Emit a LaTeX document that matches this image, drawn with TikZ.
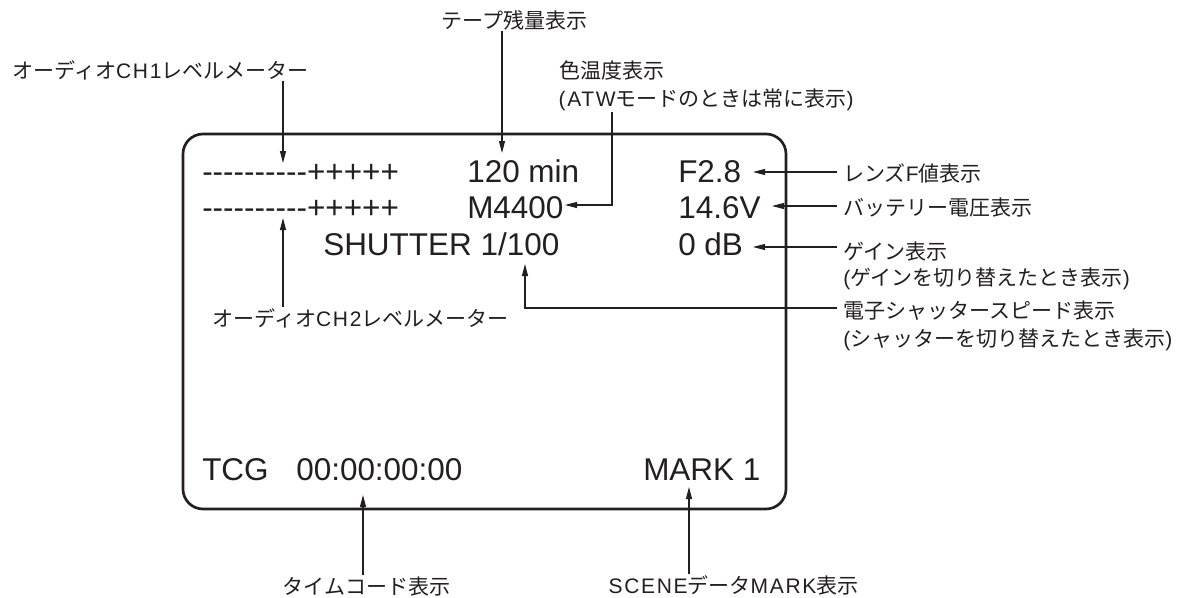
\documentclass[tikz,border=0pt]{standalone}
\usepackage{fontspec}
\setmainfont{Liberation Sans}
\newfontfamily\jpfont{Noto Sans CJK JP}
\newfontfamily\latspfont[LetterSpace=8]{Liberation Sans}
\newcommand\LatS[1]{{\latspfont #1}}
\usetikzlibrary{arrows.meta}
\definecolor{ink}{HTML}{231F20}
\begin{document}
\begin{tikzpicture}[x={(0.75pt,0)}, y={(0,-0.75pt)},
  disp/.style={font=\fontsize{23.6pt}{28pt}\selectfont, inner sep=0pt, anchor=base west, text=ink},
  lbl/.style={font=\jpfont\fontsize{15.75pt}{21pt}\selectfont, inner sep=1pt, anchor=base west, text=ink},
  rlbl/.style={lbl, inner xsep=4.5pt},
  arr/.style={draw=ink, line width=0.8pt, -{Triangle[length=9pt,width=4.5pt]}}]
\fill[white] (0,0) rectangle (1190,597);
\useasboundingbox (0,0) rectangle (1190,597);

% screen frame
\node[draw=ink, line width=2pt, rounded corners=15pt, minimum width=452.25pt,
      minimum height=281.25pt, inner sep=0pt] (screen) at (484.5,321.5) {};

% display contents
\node[disp] (lv1)  at (202,182) {-{}-{}-{}-{}-{}-{}-{}-{}-{}-{}+++++};
\node[disp] (tape) at (467,182) {120 min};
\node[disp] (fnum) at (678,182) {F2.8};
\node[disp] (lv2)  at (202,218) {-{}-{}-{}-{}-{}-{}-{}-{}-{}-{}+++++};
\node[disp] (ct)   at (467,218) {M4400};
\node[disp] (batt) at (678,218) {14.6V};
\node[disp] (shut) at (323,255) {SHUTTER 1/100};
\node[disp] (gain) at (678,255) {0 dB};
\node[disp] (tcg)  at (202,480) {TCG};
\node[disp] (tc)   at (296,480) {00:00:00:00};
\node[disp] (mark) at (643,480) {MARK 1};

% labels
\node[lbl]  (Ltape)  at (440,28)  {テープ残量表示};
\node[lbl]  (Lch1)   at (11,78)   {オーディオ\LatS{CH1}レベルメーター};
\node[lbl]  (Lct1)   at (558,78)  {色温度表示};
\node[lbl]  (Lct2)   at (557,106) {\LatS{(ATW}モードのときは常に表示\LatS{)}};
\node[rlbl] (Llens)  at (837,181) {レンズ\LatS{F}値表示};
\node[rlbl] (Lbatt)  at (837,215) {バッテリー電圧表示};
\node[rlbl] (Lgain1) at (837,259) {ゲイン表示};
\node[rlbl] (Lgain2) at (837,285) {\LatS{(}ゲインを切り替えたとき表示\LatS{)}};
\node[rlbl] (Lshut1) at (837,318) {電子シャッタースピード表示};
\node[rlbl] (Lshut2) at (837,346) {\LatS{(}シャッターを切り替えたとき表示\LatS{)}};
\node[lbl]  (Lch2)   at (211,326) {オーディオ\LatS{CH2}レベルメーター};
\node[lbl]  (Ltc)    at (281,594) {タイムコード表示};
\node[lbl]  (Lmark)  at (607,593) {\LatS{SCENE}データ\LatS{MARK}表示};

% arrow tips and corners
\coordinate (tTape) at (502,153);
\coordinate (tCh1)  at (283,163);
\coordinate (tCh2)  at (283,218);
\coordinate (cCt)   at (612,205);
\coordinate (tCt)   at (565,205);
\coordinate (tLens) at (753,172);
\coordinate (tBatt) at (772,206);
\coordinate (tGain) at (753,247);
\coordinate (cShut) at (525,308);
\coordinate (tShut) at (525,264);
\coordinate (tTc)   at (363,495);
\coordinate (tMark) at (689,487);

% connectors
\draw[arr] (Ltape.south -| tTape) -- (tTape);
\draw[arr] (Lch1.south -| tCh1) -- (tCh1);
\draw[arr] (Lch2.north -| tCh2) -- (tCh2);
\draw[arr] (Lct2.south -| cCt) -- (cCt) -- (tCt);
\draw[arr] (Llens.west |- tLens) -- (tLens);
\draw[arr] (Lbatt.west |- tBatt) -- (tBatt);
\draw[arr] (Lgain1.west |- tGain) -- (tGain);
\draw[arr] (Lshut1.west |- cShut) -- (cShut) -- (tShut);
\draw[arr] (Ltc.north -| tTc) -- (tTc);
\draw[arr] (Lmark.north -| tMark) -- (tMark);
\end{tikzpicture}
\end{document}
